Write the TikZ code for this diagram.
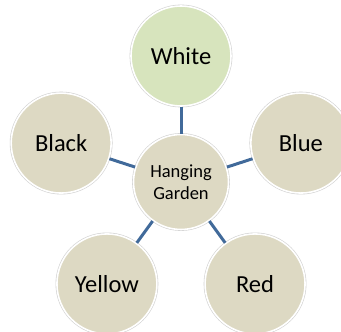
\documentclass[tikz,border=0pt]{standalone}
\usepackage{fontspec}
\setmainfont{Carlito}
\usetikzlibrary{calc}
\begin{document}
\begin{tikzpicture}[x=1pt,y=1pt,
  petal/.style={circle, minimum size=100pt, inner sep=0pt, fill=petalfill,
    preaction={draw=black!18, line width=2.8pt},
    draw=white, line width=1.6pt, font=\fontsize{24.5}{28}\selectfont},
  hub/.style={circle, minimum size=95pt, inner sep=0pt, fill=petalfill,
    preaction={draw=black!18, line width=2.8pt},
    draw=white, line width=1.6pt, align=center,
    font=\fontsize{18.5}{22}\selectfont},
  spoke/.style={draw=spokeblue, line width=3pt}]
\definecolor{petalfill}{RGB}{221,217,195}
\definecolor{greenfill}{RGB}{215,228,189}
\definecolor{spokeblue}{RGB}{65,106,154}
\useasboundingbox (0,0) rectangle (341,332);
\node[hub] (c) at (181,150) {Hanging\\Garden};
\node[petal, fill=greenfill] (w) at ($(c)+(90:126)$) {White};
\node[petal] (b) at ($(c)+(18:126)$) {Blue};
\node[petal] (r) at ($(c)+(-54:126)$) {Red};
\node[petal] (y) at ($(c)+(-126:126)$) {Yellow};
\node[petal] (k) at ($(c)+(162:126)$) {Black};
\foreach \n in {w,b,r,y,k} \draw[spoke] (c) -- (\n);
\end{tikzpicture}
\end{document}
